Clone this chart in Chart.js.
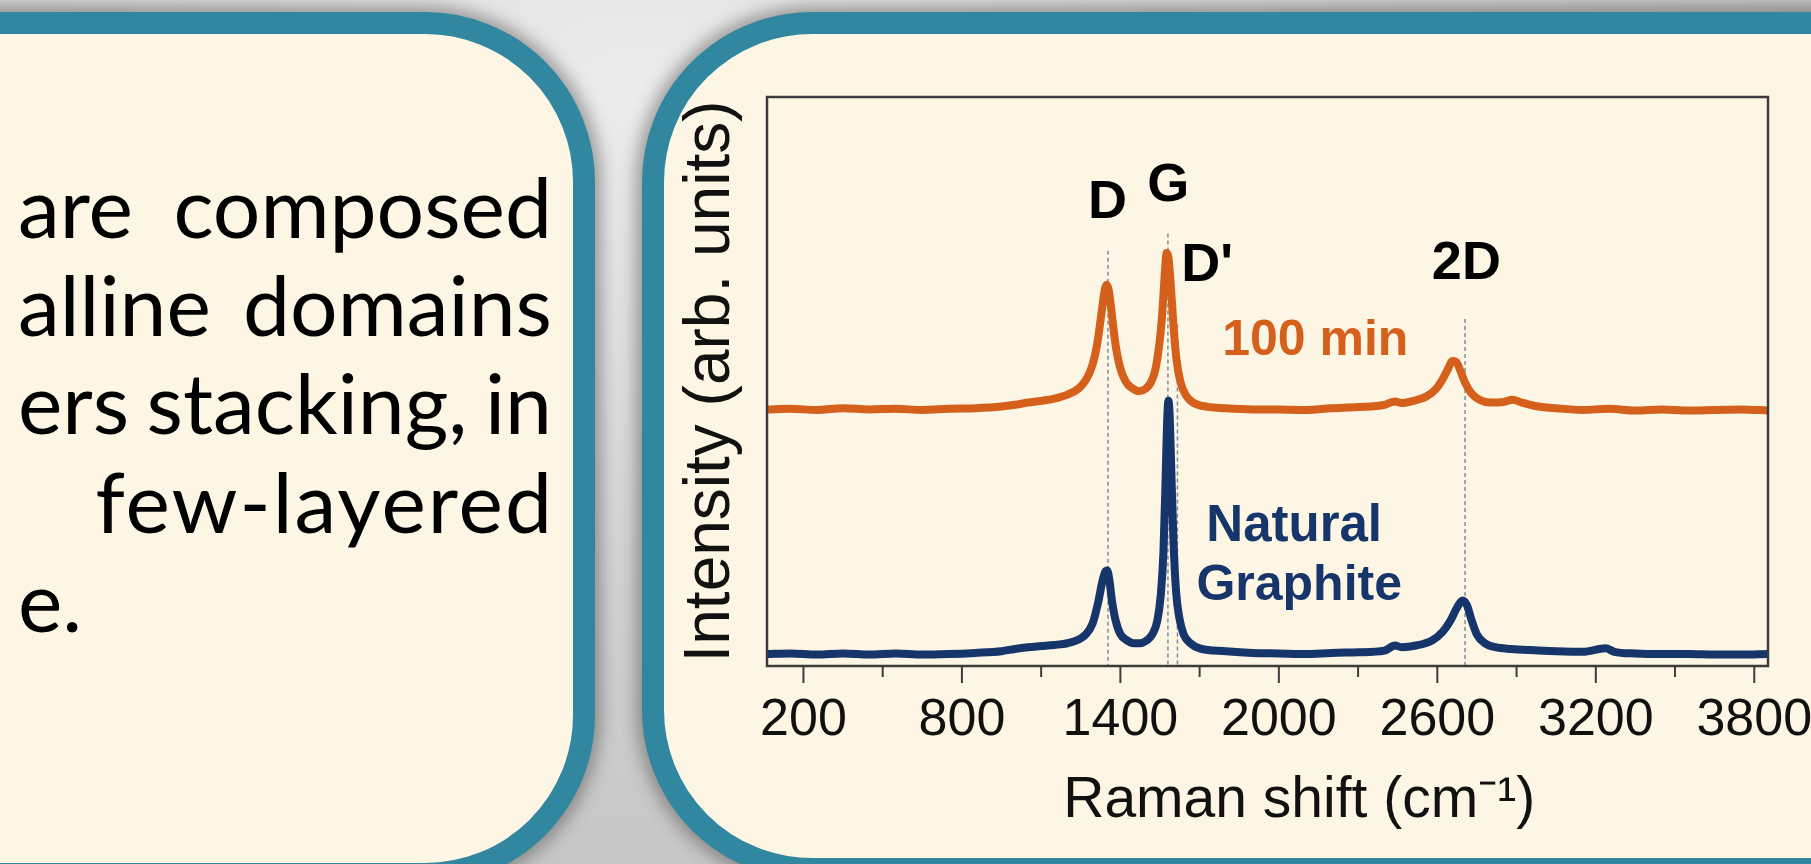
<!DOCTYPE html>
<html>
<head>
<meta charset="utf-8">
<script src="https://cdn.jsdelivr.net/npm/chart.js@4.4.1/dist/chart.umd.min.js"></script>
<style>
  html, body { margin: 0; padding: 0; width: 1811px; height: 864px; overflow: hidden; }
  body {
    position: relative;
    background: radial-gradient(ellipse at 35% 10%, #ececec 0%, #d2d2d2 45%, #b9b9b9 100%);
  }
  .panel {
    position: absolute;
    box-sizing: border-box;
    border: 22px solid #31879f;
    border-radius: 170px;
    background: #fef6e4;
    box-shadow: 0 0 16px 6px rgba(60, 60, 60, 0.45);
  }
  #left { left: -220px; top: 12px; width: 815px; height: 873px; }
  #right { left: 642px; top: 12px; width: 1400px; height: 868px; }
  .line {
    position: absolute;
    left: 18px;
    width: 534px;
    display: flex;
    justify-content: space-between;
    font-family: Lato, 'Open Sans', sans-serif;
    font-size: 84px;
    line-height: 1;
    color: #000;
    white-space: nowrap;
  }
  #chart { position: absolute; left: 0; top: 0; }
</style>
</head>
<body>
<div class="panel" id="left"></div>
<div class="panel" id="right"></div>
<div class="line" style="top:164px"><span>are</span><span>composed</span></div>
<div class="line" style="top:262px"><span>alline</span><span>domains</span></div>
<div class="line" style="top:360px"><span>ers</span><span>stacking,</span><span>in</span></div>
<div class="line" style="top:459px; justify-content:flex-end"><span style="letter-spacing:2px; margin-right:-2px">few-layered</span></div>
<div class="line" style="top:558px; justify-content:flex-start"><span>e.</span></div>
<canvas id="chart" width="1811" height="864"></canvas>
<script>
// 100 min spectrum (orange)
const shift100 = [62, 150, 250, 350, 450, 550, 650, 750, 850, 950, 1000, 1050, 1100, 1150, 1200, 1240,
  1270, 1295, 1312, 1325, 1334, 1341, 1348, 1356, 1366, 1380, 1398, 1420, 1445, 1470, 1495, 1515,
  1532, 1546, 1556, 1563, 1569, 1575, 1582, 1590, 1600, 1612, 1628, 1648, 1672, 1710, 1800, 1900,
  2000, 2100, 2200, 2300, 2400, 2440, 2465, 2510, 2560, 2595, 2620, 2640, 2658, 2672, 2688, 2705,
  2728, 2760, 2800, 2850, 2885, 2920, 2970, 3050, 3150, 3250, 3350, 3450, 3550, 3650, 3750, 3852];
const intensity100 = [45.1, 45.2, 45.0, 45.3, 45.1, 45.2, 45.0, 45.2, 45.3, 45.6, 45.9, 46.3, 46.6, 47.0, 47.7, 48.7,
  50.3, 53.0, 56.5, 60.8, 64.0, 66.2, 67.0, 66.0, 62.5, 57.0, 52.6, 50.0, 48.8, 48.3, 48.7, 49.8,
  52.0, 56.0, 60.5, 65.2, 69.6, 72.6, 71.8, 67.5, 60.5, 54.0, 49.8, 47.6, 46.4, 45.7, 45.3, 45.1,
  45.1, 45.0, 45.3, 45.5, 45.9, 46.5, 46.2, 46.6, 47.4, 48.7, 50.4, 52.2, 53.6, 53.4, 51.8, 49.8,
  48.0, 46.8, 46.3, 46.4, 46.8, 46.3, 45.7, 45.3, 45.0, 45.2, 44.9, 45.1, 44.9, 45.0, 45.1, 44.9];

// natural graphite spectrum (navy)
const shiftNG = [62, 150, 250, 350, 450, 550, 650, 750, 850, 950, 1000, 1050, 1100, 1150, 1200, 1240,
  1270, 1295, 1315, 1330, 1342, 1350, 1358, 1368, 1382, 1400, 1425, 1450, 1475, 1500, 1520, 1540,
  1553, 1563, 1571, 1577, 1582, 1587, 1593, 1601, 1611, 1623, 1640, 1665, 1700, 1800, 1900, 2000,
  2100, 2200, 2300, 2400, 2440, 2465, 2520, 2580, 2620, 2650, 2675, 2695, 2712, 2730, 2750, 2780,
  2820, 2880, 2950, 3050, 3150, 3237, 3270, 3350, 3450, 3550, 3650, 3750, 3852];
const intensityNG = [2.1, 2.2, 2.0, 2.2, 2.0, 2.2, 2.0, 2.1, 2.3, 2.6, 3.0, 3.3, 3.5, 3.7, 4.0, 4.6,
  5.6, 7.5, 11.0, 14.5, 16.5, 16.8, 15.2, 11.5, 8.0, 5.6, 4.5, 4.0, 4.0, 4.5, 5.5, 8.0,
  12.5, 20.0, 32.5, 43.0, 46.6, 43.5, 34.0, 22.0, 13.0, 8.5, 5.5, 4.0, 3.1, 2.6, 2.3, 2.2,
  2.1, 2.3, 2.4, 2.7, 3.6, 3.3, 3.6, 4.5, 6.0, 8.0, 10.3, 11.5, 10.7, 8.0, 5.5, 4.0,
  3.3, 3.0, 2.8, 2.6, 2.5, 3.1, 2.5, 2.2, 2.1, 2.1, 2.0, 2.0, 2.1];

const xTickLabels = [200, 800, 1400, 2000, 2600, 3200, 3800];
const xMinorTicks = [500, 1100, 1700, 2300, 2900, 3500];

// peak markers: position (cm-1) and top of dashed guide (arb. units)
const peakNames = ['D', 'G', "D'", '2D'];
const peakShifts = [1353, 1580, 1616, 2705];
const peakGuideTop = [73, 76, 60, 61];

// text labels in data units
const labels = [
  { text: 'D', x: 1351, y: 78.7, color: '#000', size: 54, align: 'center' },
  { text: 'G', x: 1581, y: 81.8, color: '#000', size: 54, align: 'center' },
  { text: "D'", x: 1630, y: 67.7, color: '#000', size: 54, align: 'left' },
  { text: '2D', x: 2710, y: 68.0, color: '#000', size: 54, align: 'center' },
  { text: '100 min', x: 2138, y: 54.6, color: '#d4601c', size: 50, align: 'center' },
  { text: 'Natural', x: 2058, y: 22.0, color: '#16356a', size: 51, align: 'center' },
  { text: 'Graphite', x: 2077, y: 11.6, color: '#16356a', size: 50, align: 'center' },
];

const SANS = "'Liberation Sans', Arial, sans-serif";
const toPoints = (xs, ys) => xs.map((x, i) => ({ x, y: ys[i] }));

// box round the plot + outward tick marks
const frameAndTicks = {
  id: 'frameAndTicks',
  afterDraw(chart) {
    const { ctx, chartArea: { left, top, width, height, bottom } } = chart;
    const xs = chart.scales.x;
    ctx.save();
    ctx.strokeStyle = '#3c3c3c';
    ctx.lineWidth = 2.5;
    ctx.strokeRect(left, top, width, height);
    ctx.lineWidth = 2;
    xTickLabels.forEach((v) => {
      const px = xs.getPixelForValue(v);
      ctx.beginPath(); ctx.moveTo(px, bottom); ctx.lineTo(px, bottom + 17); ctx.stroke();
    });
    xMinorTicks.forEach((v) => {
      const px = xs.getPixelForValue(v);
      ctx.beginPath(); ctx.moveTo(px, bottom); ctx.lineTo(px, bottom + 11); ctx.stroke();
    });
    ctx.restore();
  },
};

// dashed peak guides and text labels
const peakMarks = {
  id: 'peakMarks',
  beforeDatasetsDraw(chart) {
    const { ctx } = chart;
    const { x: xs, y: ys } = chart.scales;
    ctx.save();
    ctx.strokeStyle = '#7f8ca3';
    ctx.lineWidth = 1.5;
    ctx.setLineDash([4, 3]);
    peakShifts.forEach((s, i) => {
      const px = xs.getPixelForValue(s);
      ctx.beginPath();
      ctx.moveTo(px, ys.getPixelForValue(peakGuideTop[i]));
      ctx.lineTo(px, ys.getPixelForValue(0));
      ctx.stroke();
    });
    ctx.restore();
  },
  afterDatasetsDraw(chart) {
    const { ctx } = chart;
    const { x: xs, y: ys } = chart.scales;
    ctx.save();
    ctx.textBaseline = 'alphabetic';
    labels.forEach((l) => {
      ctx.font = `bold ${l.size}px ${SANS}`;
      ctx.fillStyle = l.color;
      ctx.textAlign = l.align;
      ctx.fillText(l.text, xs.getPixelForValue(l.x), ys.getPixelForValue(l.y));
    });
    ctx.restore();
  },
};

new Chart(document.getElementById('chart'), {
  type: 'line',
  data: {
    datasets: [
      {
        label: '100 min',
        data: toPoints(shift100, intensity100),
        borderColor: '#d4601c',
        borderWidth: 8,
        pointRadius: 0,
        cubicInterpolationMode: 'monotone',
      },
      {
        label: 'Natural Graphite',
        data: toPoints(shiftNG, intensityNG),
        borderColor: '#16356a',
        borderWidth: 8,
        pointRadius: 0,
        cubicInterpolationMode: 'monotone',
      },
    ],
  },
  options: {
    responsive: false,
    animation: false,
    devicePixelRatio: 1,
    layout: { padding: { left: 660, top: 97, right: 43, bottom: 0 } },
    plugins: { legend: { display: false }, tooltip: { enabled: false } },
    scales: {
      x: {
        type: 'linear',
        min: 62,
        max: 3852,
        afterBuildTicks: (scale) => { scale.ticks = xTickLabels.map((value) => ({ value })); },
        afterFit: (scale) => {
          scale.height = 198;
          scale.paddingLeft = 0;
          scale.paddingRight = 0;
        },
        grid: { display: false, drawTicks: false },
        border: { display: false },
        ticks: {
          padding: 23,
          color: '#111',
          font: { family: SANS, size: 52 },
          maxRotation: 0,
          autoSkip: false,
          callback: (v) => String(v),
        },
        title: {
          display: true,
          text: '    Raman shift (cm⁻¹)',
          color: '#111',
          font: { family: SANS, size: 57 },
          padding: { top: 0, bottom: 29 },
        },
      },
      y: {
        min: 0,
        max: 100,
        afterFit: (scale) => { scale.width = 107; },
        grid: { display: false },
        border: { display: false },
        ticks: { display: false },
        title: {
          display: true,
          text: 'Intensity (arb. units)',
          color: '#111',
          font: { family: SANS, size: 64 },
          padding: { top: 13, bottom: 0 },
        },
      },
    },
  },
  plugins: [peakMarks, frameAndTicks],
});
</script>
</body>
</html>
